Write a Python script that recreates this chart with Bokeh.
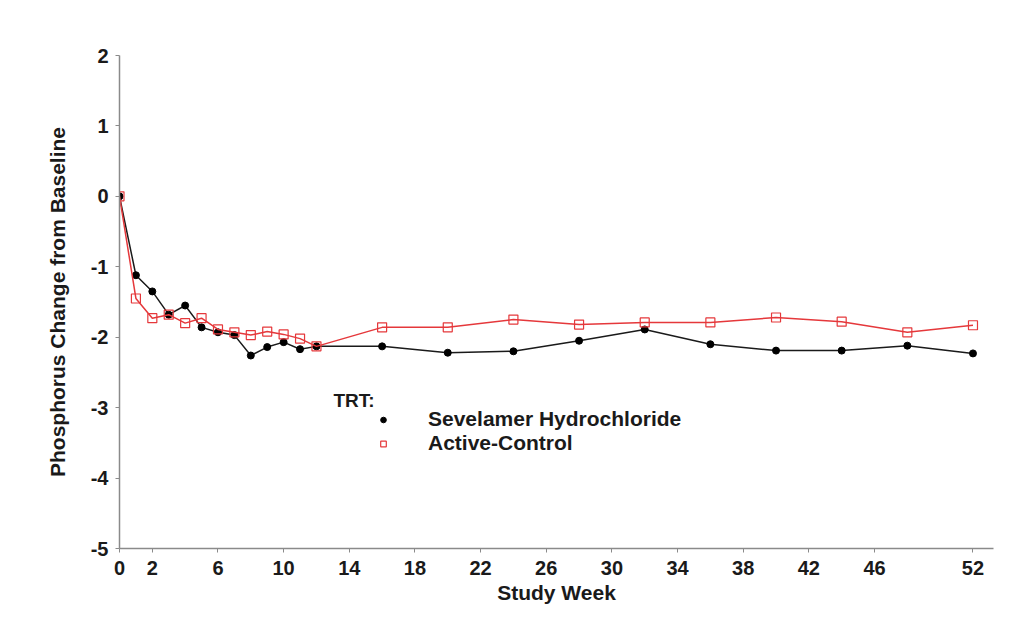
from bokeh.plotting import figure
from bokeh.models import FixedTicker, Legend, LegendItem, Label, Range1d
from bokeh.embed import file_html
from bokeh.resources import INLINE

weeks = [0, 1, 2, 3, 4, 5, 6, 7, 8, 9, 10, 11, 12, 16, 20, 24, 28, 32, 36, 40, 44, 48, 52]
sevelamer = [0.0, -1.12, -1.35, -1.68, -1.55, -1.86, -1.93, -1.97, -2.26, -2.14, -2.07, -2.17, -2.13,
             -2.13, -2.22, -2.20, -2.05, -1.89, -2.10, -2.19, -2.19, -2.12, -2.23]
active_control = [0.0, -1.45, -1.73, -1.68, -1.80, -1.73, -1.89, -1.93, -1.97, -1.92, -1.96, -2.02, -2.13,
                  -1.86, -1.86, -1.75, -1.82, -1.79, -1.79, -1.72, -1.78, -1.93, -1.83]
x_ticks = [0, 2, 6, 10, 14, 18, 22, 26, 30, 34, 38, 42, 46, 52]
y_ticks = [-5, -4, -3, -2, -1, 0, 1, 2]

FONT = "Liberation Sans"
RED = "#e5383b"
AXIS = "#8a8a8a"
TXT = "#1a1a1a"

p = figure(width=1010, height=610, output_backend="svg", toolbar_location=None,
           x_range=Range1d(0, 53.25), y_range=Range1d(-5, 2),
           min_border_left=119, min_border_right=17, min_border_top=55, min_border_bottom=62)
p.outline_line_color = None
p.xgrid.visible = False
p.ygrid.visible = False
p.background_fill_color = "white"

l1 = p.line(weeks, sevelamer, line_color=TXT, line_width=1.5)
s1 = p.scatter(weeks, sevelamer, marker="circle", size=7, fill_color="black", line_color="black")
l2 = p.line(weeks, active_control, line_color=RED, line_width=1.5)
s2 = p.scatter(weeks, active_control, marker="square", size=9, fill_color="white",
               fill_alpha=0.0, line_color=RED, line_width=1.2)

for ax in (p.xaxis[0], p.yaxis[0]):
    ax.axis_line_color = AXIS
    ax.axis_line_width = 1.5
    ax.major_tick_line_color = AXIS
    ax.major_tick_in = 0
    ax.major_tick_out = 4
    ax.minor_tick_line_color = None
    ax.major_label_text_font = FONT
    ax.major_label_text_font_style = "bold"
    ax.major_label_text_font_size = "20px"
    ax.major_label_text_color = TXT
    ax.axis_label_text_font = FONT
    ax.axis_label_text_font_style = "bold"
    ax.axis_label_text_font_size = "21px"
    ax.axis_label_text_color = TXT

p.xaxis.ticker = FixedTicker(ticks=x_ticks)
p.yaxis.ticker = FixedTicker(ticks=y_ticks)
p.xaxis.major_label_overrides = {t: str(t) for t in x_ticks}
p.yaxis.major_label_overrides = {t: str(t) for t in y_ticks}
p.xaxis.axis_label = "Study Week"
p.yaxis.axis_label = "Phosphorus Change from Baseline"
p.xaxis.major_label_standoff = 8
p.xaxis.axis_label_standoff = 3
p.yaxis.major_label_standoff = 7
p.yaxis.axis_label_standoff = 19

legend = Legend(items=[LegendItem(label="Sevelamer Hydrochloride", renderers=[s1]),
                       LegendItem(label="Active-Control", renderers=[s2])],
                location=(257, 93), orientation="vertical",
                border_line_color=None, background_fill_alpha=0.0,
                padding=0, margin=0, spacing=0,
                glyph_width=14, glyph_height=21, label_height=21, label_standoff=38,
                label_text_font=FONT, label_text_font_style="bold",
                label_text_font_size="21px", label_text_color=TXT)
p.add_layout(legend, "center")

trt = Label(x=214, y=138, x_units="screen", y_units="screen", text="TRT:",
            text_font=FONT, text_font_style="bold", text_font_size="19px",
            text_color=TXT)
p.add_layout(trt)

open("out.html", "w").write(file_html(p, INLINE))
